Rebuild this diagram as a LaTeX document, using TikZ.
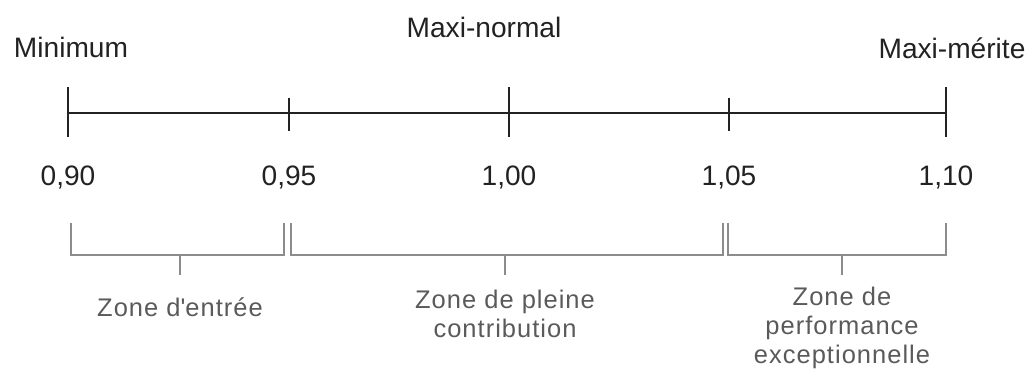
\documentclass[tikz,border=0pt]{standalone}
\usepackage{fontspec}
\setmainfont{Liberation Sans}
\usetikzlibrary{positioning}
\definecolor{axisblack}{RGB}{34,34,34}
\definecolor{bracketgray}{RGB}{140,140,140}
\definecolor{zonetext}{RGB}{90,90,90}
\tikzset{
axisline/.style={draw=axisblack, line width=1.1pt},
bracketline/.style={draw=bracketgray, line width=1.1pt},
toplabel/.style={font=\fontsize{16}{18}\selectfont, text=axisblack, inner sep=0pt},
valuelabel/.style={font=\fontsize{16}{18}\selectfont, text=axisblack, inner sep=0pt},
zonelabel/.style={font=\fontsize{14.5}{14.5}\selectfont\addfontfeature{LetterSpace=4}, text=zonetext, align=center, inner sep=0pt}
}
\begin{document}
\begin{tikzpicture}[x=1cm,y=1cm]
\useasboundingbox (0,0) rectangle (20.68,7.58);

% axis
\coordinate (axisL) at (1.36,5.32);
\coordinate (axisR) at (18.92,5.32);
\draw[axisline] (axisL) -- (axisR);

\foreach \x/\up/\dn/\v/\name in {
1.36/5.84/4.84/{0,90}/v1, 5.78/5.62/4.96/{0,95}/v2, 10.18/5.84/4.84/{1,00}/v3,
14.58/5.62/4.96/{1,05}/v4, 18.92/5.84/4.84/{1,10}/v5} {
  \draw[axisline] (\x,\up) -- (\x,\dn);
  \node[valuelabel] (\name) at (\x,4.04) {\v};
}

\node[toplabel] (minimum) at (1.42,6.64) {Minimum};
\node[toplabel] (maxinormal) at (9.68,7.04) {Maxi-normal};
\node[toplabel] (maximerite) at (19.04,6.62) {Maxi-mérite};

% zones
\foreach \l/\r/\m in {1.42/5.68/3.60, 5.82/14.46/10.10, 14.56/18.92/16.84} {
  \draw[bracketline] (\l,3.12) -- (\l,2.48) -- (\r,2.48) -- (\r,3.12);
  \draw[bracketline] (\m,2.48) -- (\m,2.08);
}

\node[zonelabel] (zone1) at (3.60,1.44) {Zone d\textquotesingle entrée};
\node[zonelabel] (zone2) at (10.10,1.30) {Zone de pleine\\[2pt]contribution};
\node[zonelabel] (zone3) at (16.84,1.02) {Zone de\\[2pt]performance\\[2pt]exceptionnelle};

\end{tikzpicture}
\end{document}
